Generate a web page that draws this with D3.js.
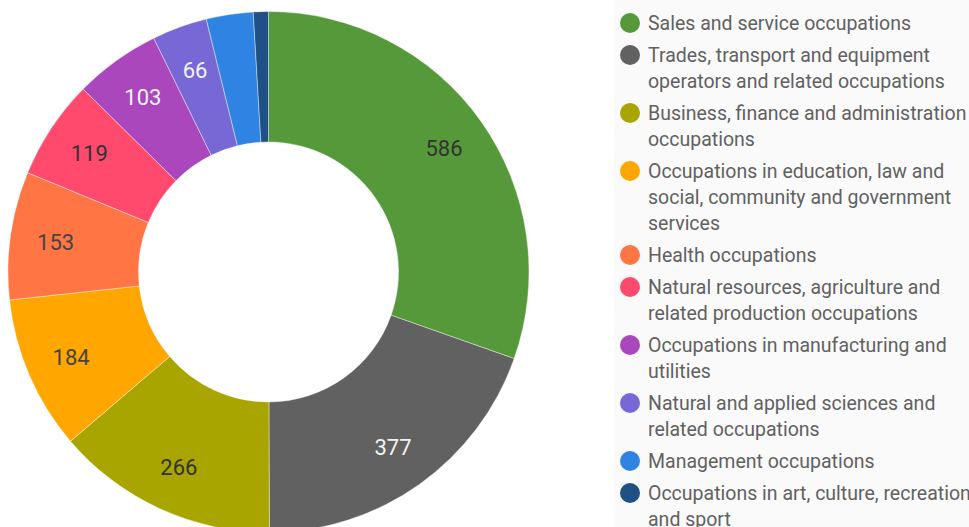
<!DOCTYPE html>
<html>
<head>
<meta charset="utf-8">
<script src="https://cdn.jsdelivr.net/npm/d3@7"></script>
<style>
  html, body { margin: 0; padding: 0; background: #ffffff; }
  svg { display: block; font-family: Roboto, "Noto Sans", sans-serif; }
</style>
</head>
<body>
<svg id="chart" width="969" height="527"></svg>
<script>
const categories = [
  "Sales and service occupations",
  "Trades, transport and equipment operators and related occupations",
  "Business, finance and administration occupations",
  "Occupations in education, law and social, community and government services",
  "Health occupations",
  "Natural resources, agriculture and related production occupations",
  "Occupations in manufacturing and utilities",
  "Natural and applied sciences and related occupations",
  "Management occupations",
  "Occupations in art, culture, recreation and sport"
];
const values = [586, 377, 266, 184, 153, 119, 103, 66, 56, 18];
const showLabel = [true, true, true, true, true, true, true, true, false, false];
const colors = ["#56993a", "#616161", "#a8a400", "#ffa600", "#ff7543", "#ff4a6e", "#ab47bc", "#7868d6", "#2f84e3", "#1f5186"];
const labelColors = ["#333333", "#f2f2f2", "#333333", "#444444", "#444444", "#333333", "#f2f2f2", "#f2f2f2", "#f2f2f2", "#f2f2f2"];

const svg = d3.select("#chart");
const W = 969, H = 527;

// legend background
svg.append("rect").attr("x", 614).attr("y", 0).attr("width", W - 614).attr("height", H).attr("fill", "#fafafa");

const cx = 268.5, cy = 272, R = 260.5, r0 = 130;
const data = categories.map((c, i) => ({ name: c, value: values[i], color: colors[i], lc: labelColors[i], show: showLabel[i] }));

const pie = d3.pie().value(d => d.value).sort(null);
const arcs = pie(data);
const arc = d3.arc().innerRadius(r0).outerRadius(R);
const labelArc = d3.arc().innerRadius(215).outerRadius(215);

const g = svg.append("g").attr("transform", `translate(${cx},${cy})`);
g.selectAll("path").data(arcs).join("path")
  .attr("d", arc)
  .attr("fill", d => d.data.color)
  .attr("stroke", "#ffffff")
  .attr("stroke-width", 0.4);

g.selectAll("text").data(arcs.filter(d => d.data.show)).join("text")
  .attr("transform", d => `translate(${labelArc.centroid(d)})`)
  .attr("text-anchor", "middle")
  .attr("dy", "0.36em")
  .attr("font-size", 22)
  .attr("fill", d => d.data.lc)
  .text(d => d.data.value);

// legend
const lg = svg.append("g");
const maxW = 326, lineH = 26, gap = 32;
let y = 23;
data.forEach((d, i) => {
  lg.append("circle").attr("cx", 630).attr("cy", y).attr("r", 10).attr("fill", d.color);
  const t = lg.append("text").attr("x", 648).attr("font-size", 19.5).attr("fill", "#616161");
  const words = d.name.split(" ");
  let line = [];
  let ts = t.append("tspan").attr("x", 648).attr("y", y).attr("dy", "0.36em");
  let n = 0;
  words.forEach(w => {
    line.push(w);
    ts.text(line.join(" "));
    if (ts.node().getComputedTextLength() > maxW && line.length > 1) {
      line.pop();
      ts.text(line.join(" "));
      line = [w];
      n++;
      ts = t.append("tspan").attr("x", 648).attr("y", y + n * lineH).attr("dy", "0.36em").text(w);
    }
  });
  y += n * lineH + gap;
});
</script>
</body>
</html>
